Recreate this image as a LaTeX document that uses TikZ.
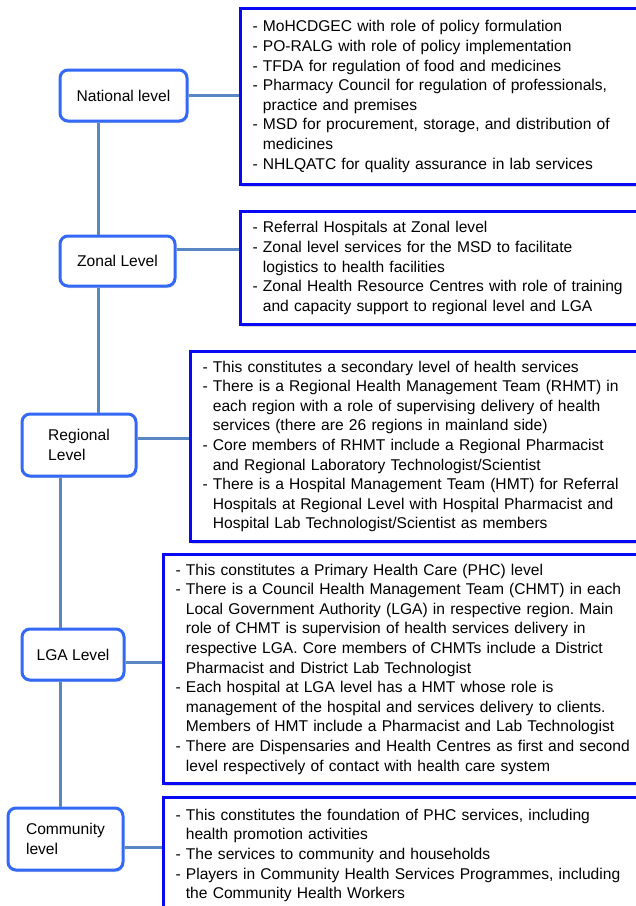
\documentclass[tikz,border=0pt]{standalone}
\usepackage{fontspec}
\setmainfont{Liberation Sans}
\usepackage{xcolor}
\usepackage{tikz}
\usetikzlibrary{shadows}
\definecolor{levelblue}{RGB}{52,104,246}
\definecolor{infoblue}{RGB}{8,8,245}
\definecolor{linkblue}{RGB}{88,135,196}
\newcommand{\hangpad}{\phantom{- }}
\frenchspacing

\begin{document}
\begin{tikzpicture}[x=1pt,y=-1pt,font=\fontsize{15.6pt}{19.6pt}\selectfont]
  \tikzstyle{levelbox}=[draw=levelblue,line width=3pt,rounded corners=8pt,fill=white,align=left,inner sep=2pt,drop shadow={shadow xshift=1pt,shadow yshift=-2pt,opacity=.35,fill=black!45}]
  \tikzstyle{infobox}=[draw=infoblue,line width=3pt,fill=white,anchor=north west,text width=480pt,inner xsep=12pt,align=left,drop shadow={shadow xshift=1pt,shadow yshift=-2pt,opacity=.35,fill=black!45}]
  \tikzstyle{link}=[draw=linkblue,line width=3pt]
  \useasboundingbox (0,0) rectangle (636,906);
  \clip (0,0) rectangle (636,906);
  \fill[white] (0,0) rectangle (636,906);
  \node[infobox,minimum height=176pt] (natdet) at (239,7) {- MoHCDGEC with role of policy formulation\\- PO-RALG with role of policy implementation\\- TFDA for regulation of food and medicines\\- Pharmacy Council for regulation of professionals,\\\hangpad practice and premises\\- MSD for procurement, storage, and distribution of\\\hangpad medicines\\- NHLQATC for quality assurance in lab services};
  \node[infobox,minimum height=113pt] (zondet) at (239,210) {- Referral Hospitals at Zonal level\\- Zonal level services for the MSD to facilitate\\\hangpad logistics to health facilities\\- Zonal Health Resource Centres with role of training\\\hangpad and capacity support to regional level and LGA};
  \node[infobox,minimum height=190pt] (regdet) at (189,350) {- This constitutes a secondary level of health services\\- There is a Regional Health Management Team (RHMT) in\\\hangpad each region with a role of supervising delivery of health\\\hangpad services (there are 26 regions in mainland side)\\- Core members of RHMT include a Regional Pharmacist\\\hangpad and Regional Laboratory Technologist/Scientist\\- There is a Hospital Management Team (HMT) for Referral\\\hangpad Hospitals at Regional Level with Hospital Pharmacist and\\\hangpad Hospital Lab Technologist/Scientist as members};
  \node[infobox,minimum height=229pt] (lgadet) at (162,553) {- This constitutes a Primary Health Care (PHC) level\\- There is a Council Health Management Team (CHMT) in each\\\hangpad Local Government Authority (LGA) in respective region. Main\\\hangpad role of CHMT is supervision of health services delivery in\\\hangpad respective LGA. Core members of CHMTs include a District\\\hangpad Pharmacist and District Lab Technologist\\- Each hospital at LGA level has a HMT whose role is\\\hangpad management of the hospital and services delivery to clients.\\\hangpad Members of HMT include a Pharmacist and Lab Technologist\\- There are Dispensaries and Health Centres as first and second\\\hangpad level respectively of contact with health care system};
  \node[infobox,minimum height=116pt] (comdet) at (162,796) {- This constitutes the foundation of PHC services, including\\\hangpad health promotion activities\\- The services to community and households\\- Players in Community Health Services Programmes, including\\\hangpad the Community Health Workers};
  \node[levelbox,minimum width=127pt,minimum height=51pt] (national) at (123.5,95.5) {National level};
  \node[levelbox,minimum width=115pt,minimum height=50pt] (zonal) at (117.5,261) {Zonal Level};
  \node[levelbox,minimum width=114pt,minimum height=62pt] (regional) at (79,445) {Regional\\Level};
  \node[levelbox,minimum width=102pt,minimum height=51pt] (lga) at (73,654.5) {LGA Level};
  \node[levelbox,minimum width=115pt,minimum height=62pt] (community) at (65.5,839) {Community\\level};
  \draw[link] (national.east) -- (national.east -| natdet.west);
  \draw[link] ([yshift=12pt]zonal.east) -- ([yshift=12pt]zonal.east -| zondet.west);
  \draw[link] ([yshift=7pt]regional.east) -- ([yshift=7pt]regional.east -| regdet.west);
  \draw[link] ([yshift=-8pt]lga.east) -- ([yshift=-8pt]lga.east -| lgadet.west);
  \draw[link] ([yshift=-8pt]community.east) -- ([yshift=-8pt]community.east -| comdet.west);
  \draw[link] ([xshift=-25.5pt]national.south) -- ([xshift=-25.5pt]national.south |- zonal.north);
  \draw[link] ([xshift=-19.5pt]zonal.south) -- ([xshift=-19.5pt]zonal.south |- regional.north);
  \draw[link] ([xshift=-19pt]regional.south) -- ([xshift=-19pt]regional.south |- lga.north);
  \draw[link] ([xshift=-13pt]lga.south) -- ([xshift=-13pt]lga.south |- community.north);
\end{tikzpicture}
\end{document}
